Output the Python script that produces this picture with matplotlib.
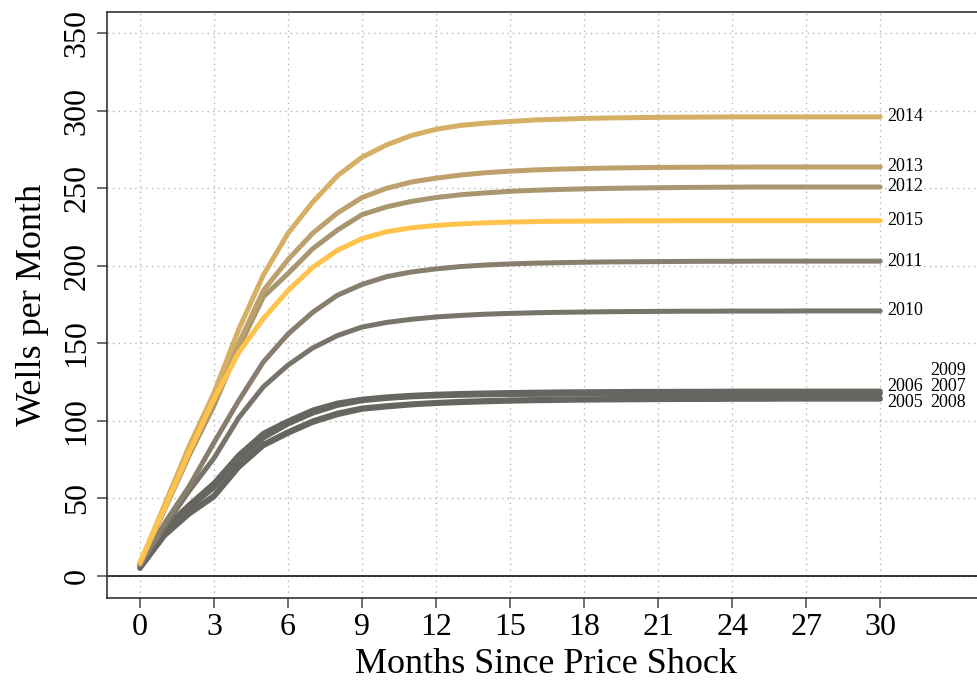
import matplotlib
matplotlib.use('Agg')
import matplotlib.pyplot as plt

months = list(range(31))

wells_2005 = [5, 26, 40, 51, 70, 84, 92, 99, 104, 107.5, 109, 110.3, 111.2, 111.8, 112.3, 112.7, 113, 113.2, 113.4, 113.5, 113.6, 113.7, 113.8, 113.8, 113.9, 113.9, 114, 114, 114, 114, 114]
wells_2006 = [6, 29, 44, 57, 75, 89, 98, 105, 110, 113, 114.5, 115.5, 116.1, 116.5, 116.8, 117, 117.1, 117.2, 117.3, 117.4, 117.4, 117.5, 117.5, 117.5, 117.5, 117.5, 117.5, 117.5, 117.5, 117.5, 117.5]
wells_2007 = [6, 30, 45, 58, 76, 90, 99, 106, 110.8, 113.6, 115, 116, 116.7, 117.1, 117.5, 117.7, 117.9, 118, 118.1, 118.2, 118.2, 118.3, 118.3, 118.3, 118.3, 118.3, 118.3, 118.3, 118.3, 118.3, 118.3]
wells_2008 = [5, 27, 41, 52, 71, 85, 93, 100, 105, 108.3, 109.8, 111, 111.9, 112.6, 113.1, 113.5, 113.8, 114, 114.2, 114.4, 114.5, 114.6, 114.7, 114.7, 114.8, 114.8, 114.8, 114.8, 114.8, 114.8, 114.8]
wells_2009 = [7, 31, 46, 60, 78, 92, 100, 107, 111.5, 114, 115.5, 116.5, 117.2, 117.7, 118, 118.3, 118.5, 118.7, 118.8, 118.9, 119, 119, 119.1, 119.1, 119.2, 119.2, 119.2, 119.2, 119.2, 119.2, 119.2]
wells_2010 = [7, 32, 55, 76, 102, 122, 136, 147, 155, 160.5, 163.5, 165.5, 167, 168, 168.8, 169.3, 169.7, 170, 170.2, 170.4, 170.5, 170.6, 170.7, 170.7, 170.8, 170.8, 170.8, 170.9, 170.9, 170.9, 170.9]
wells_2011 = [7, 34, 58, 86, 113, 138, 156, 170, 181, 188, 193, 196, 198, 199.5, 200.5, 201.2, 201.7, 202, 202.3, 202.5, 202.6, 202.7, 202.8, 202.9, 202.9, 203, 203, 203, 203, 203, 203]
wells_2012 = [8, 43, 78, 110, 147, 180, 195, 211, 223, 233, 238, 241.5, 244, 245.8, 247, 248, 248.7, 249.2, 249.6, 249.9, 250.1, 250.3, 250.5, 250.6, 250.7, 250.8, 250.8, 250.8, 250.8, 250.8, 250.8]
wells_2013 = [8, 44, 80, 114, 150, 184, 204, 221, 234, 244, 250, 254, 256.5, 258.5, 260, 261, 261.8, 262.3, 262.7, 263, 263.2, 263.4, 263.5, 263.6, 263.6, 263.7, 263.7, 263.7, 263.7, 263.7, 263.7]
wells_2014 = [8, 46, 84, 118, 159, 194, 221, 241, 258, 270, 278, 284, 288, 290.5, 292, 293, 294, 294.5, 295, 295.3, 295.5, 295.7, 295.8, 295.9, 296, 296, 296, 296, 296, 296, 296]
wells_2015 = [9, 44, 80, 114, 144, 166, 184, 199, 210, 217.5, 222, 224.5, 226, 227, 227.7, 228.2, 228.5, 228.7, 228.8, 228.9, 229, 229, 229.1, 229.1, 229.1, 229.1, 229.1, 229.1, 229.1, 229.1, 229.1]

years = ['2005', '2006', '2007', '2008', '2009', '2010', '2011', '2012', '2013', '2014', '2015']
series = [wells_2005, wells_2006, wells_2007, wells_2008, wells_2009, wells_2010,
          wells_2011, wells_2012, wells_2013, wells_2014, wells_2015]
colores = ['#67655F', '#67655F', '#67655F', '#67655F', '#67655F', '#78746B',
           '#877E6D', '#A8966F', '#BEA06C', '#D4AF64', '#FFC34C']

plt.rcParams['font.family'] = ['Liberation Serif', 'DejaVu Serif']

fig = plt.figure(figsize=(9.77, 6.87), dpi=100)
ax = fig.add_axes([0.1095, 0.1295, 0.898, 0.853])

for x in range(0, 31, 3):
    ax.axvline(x, color='#B4B4B4', lw=1, ls=(0, (1, 3)), zorder=0)
for y in range(0, 351, 50):
    ax.axhline(y, color='#B4B4B4', lw=1, ls=(0, (1, 3)), zorder=0)
ax.axhline(0, color='black', lw=1.1, zorder=1)

for serie, cor in zip(series, colores):
    ax.plot(months, serie, color=cor, lw=3.6, solid_capstyle='round', solid_joinstyle='round', zorder=2)

# etiquetas dos anos
for ano, serie in zip(years[5:], series[5:]):
    ax.text(30.28, serie[-1], ano, fontsize=13, va='center', ha='left')
ax.text(30.28, 121.9, '2006', fontsize=13, va='center', ha='left')
ax.text(30.28, 111.7, '2005', fontsize=13, va='center', ha='left')
ax.text(32.03, 132.2, '2009', fontsize=13, va='center', ha='left')
ax.text(32.03, 121.9, '2007', fontsize=13, va='center', ha='left')
ax.text(32.03, 111.7, '2008', fontsize=13, va='center', ha='left')

ax.set_xlim(-1.338, 34.22)
ax.set_ylim(-14.2, 363.6)
ax.set_xticks(range(0, 31, 3))
ax.set_yticks(range(0, 351, 50))
ax.tick_params(axis='both', labelsize=23, length=7, width=1.2, color='#555555', pad=4)
for lab in ax.get_yticklabels():
    lab.set_rotation(90)
    lab.set_va('center')
ax.spines['right'].set_visible(False)
for s in ['left', 'bottom', 'top']:
    ax.spines[s].set_color('#333333')
    ax.spines[s].set_linewidth(1.2)

ax.set_xlabel('Months Since Price Shock', fontsize=26, labelpad=4)
ax.set_ylabel('Wells per Month', fontsize=26, labelpad=10)

plt.savefig('out.png', dpi=100)
